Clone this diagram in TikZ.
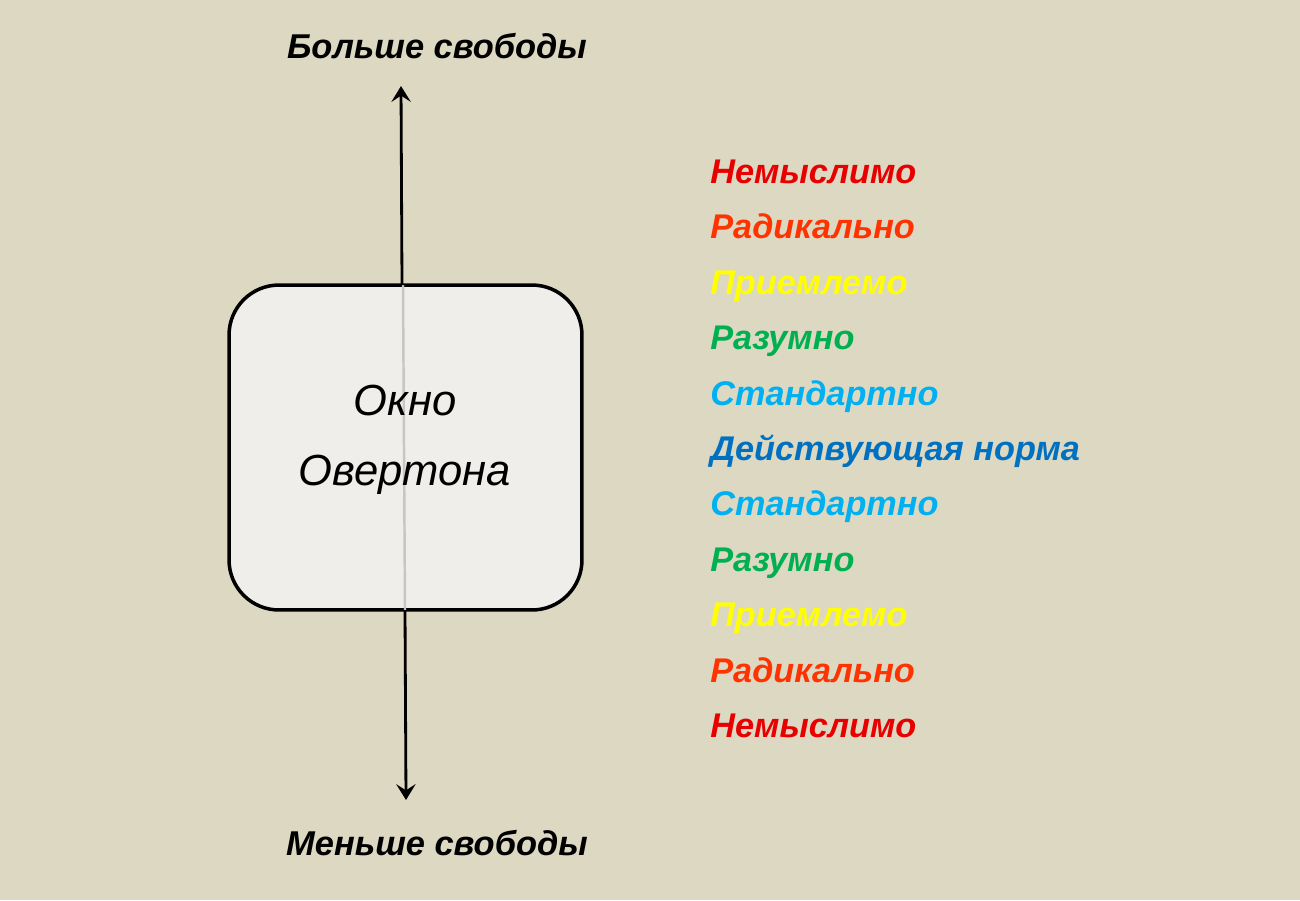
\documentclass[tikz,border=0pt]{standalone}
\usepackage{fontspec}
\setmainfont{Liberation Sans}
\usetikzlibrary{arrows.meta,positioning}
\definecolor{bgtan}{HTML}{DDD8C2}
\definecolor{boxfill}{HTML}{EFEEEA}
\definecolor{unthink}{HTML}{E80000}
\definecolor{radical}{HTML}{FF3300}
\definecolor{accept}{HTML}{FFFF00}
\definecolor{sensible}{HTML}{00B050}
\definecolor{standard}{HTML}{00B0F0}
\definecolor{norm}{HTML}{0070C0}
\tikzset{
  label/.style={font=\fontsize{19.6}{24}\selectfont\bfseries\itshape, inner sep=0pt},
  level/.style={font=\fontsize{19.5}{24}\selectfont\bfseries\itshape, inner sep=0pt, anchor=base west, text=#1},
  axis/.style={line width=1.6pt, -{Stealth[length=9pt,width=11pt,inset=3.5pt]}}
}

\begin{document}
\begin{tikzpicture}[x=0.02cm,y=-0.02cm]
            \fill[bgtan] (0,0) rectangle (1300,900);
            \useasboundingbox (0,0) rectangle (1300,900);
            % the window
            \node[draw, line width=2pt, fill=boxfill, rounded corners=1cm,
                  minimum width=7.06cm, minimum height=6.5cm] (window) at (405.5,447.5) {};
            \draw[gray!45, line width=1.4pt] (403,285) -- (405,610);
            \node[font=\fontsize{24.8}{39.7}\selectfont\itshape, align=center] (name) at (405,440) {Окно\\Овертона};
            % axis
            \coordinate (up) at (401,86);
            \coordinate (down) at (406,800);
            \draw[axis] (402,285) -- (up);
            \draw[axis] (405,610) -- (down);
            \node[label] (more) at (437,46) {Больше свободы};
            \node[label] (less) at (437,843) {Меньше свободы};
            % levels
            \foreach \t/\c [count=\i from 0] in {Немыслимо/unthink, Радикально/radical, Приемлемо/accept,
                    Разумно/sensible, Стандартно/standard, Действующая норма/norm, Стандартно/standard,
                    Разумно/sensible, Приемлемо/accept, Радикально/radical, Немыслимо/unthink}
                \node[level=\c] (lvl\i) at (710, 183.5+55.4*\i) {\t};
        \end{tikzpicture}
\end{document}
